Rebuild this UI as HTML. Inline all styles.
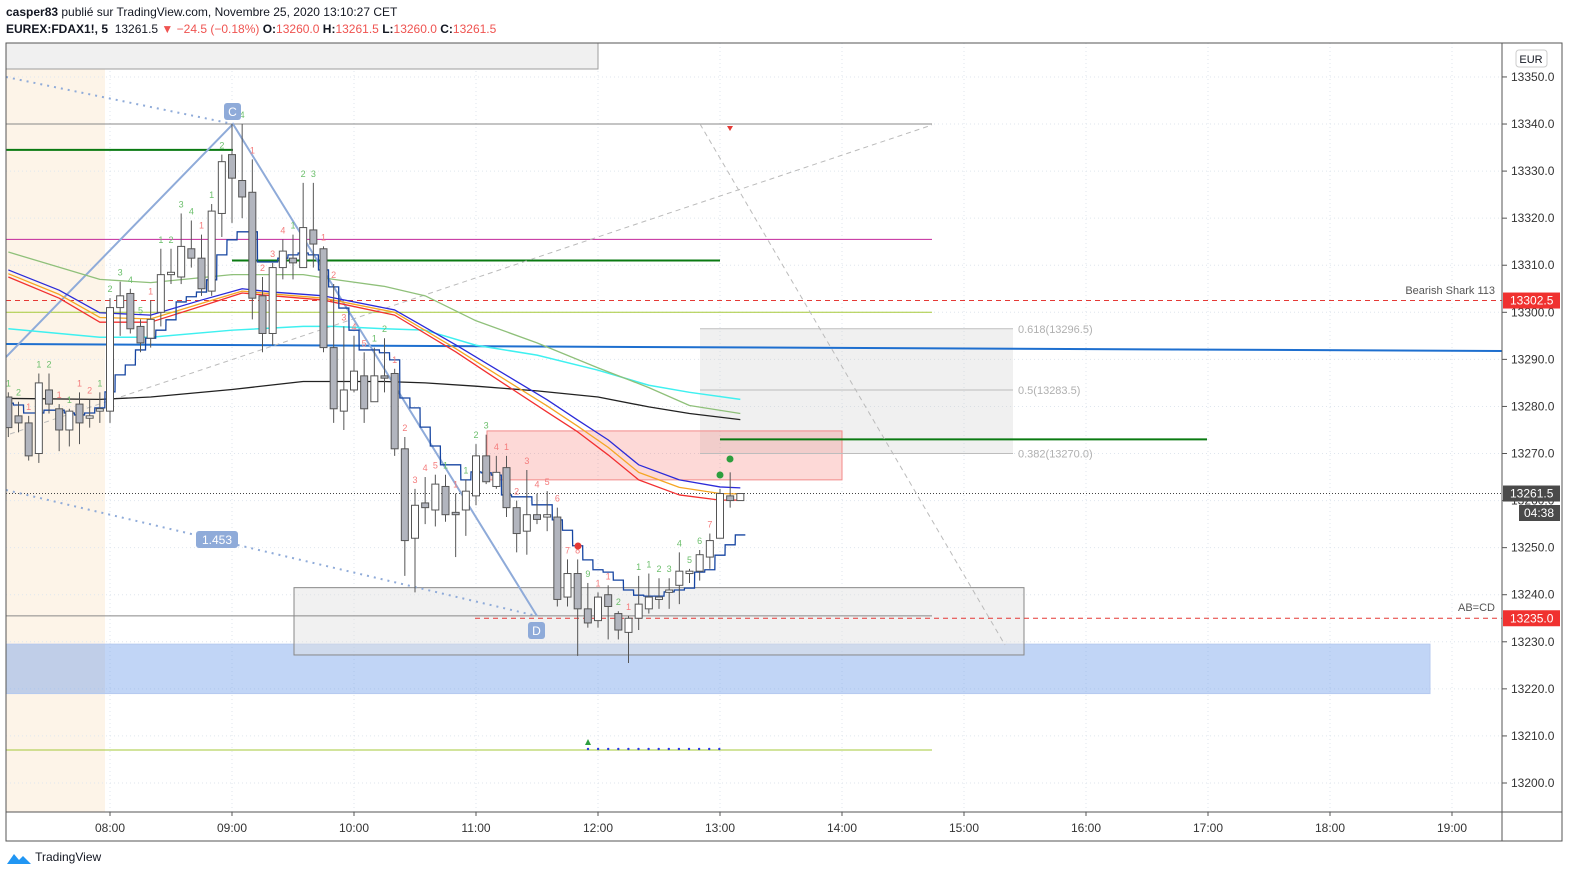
<!DOCTYPE html>
<html><head><meta charset="utf-8">
<style>
html,body{margin:0;padding:0;background:#fff;}
body{width:1576px;height:882px;overflow:hidden;font-family:"Liberation Sans",sans-serif;}
#hdr1{position:absolute;left:6px;top:5px;font-size:12px;color:#131722;}
#hdr2{position:absolute;left:6px;top:22px;font-size:12px;color:#131722;}
.r{color:#ef5350}
#logo{position:absolute;left:6px;top:850px;font-size:12px;color:#131722;}
svg{position:absolute;left:0;top:0;}
</style></head>
<body>
<div id="hdr1"><b>casper83</b> publié sur TradingView.com, Novembre 25, 2020 13:10:27 CET</div>
<div id="hdr2"><b>EUREX:FDAX1!, 5</b>&nbsp; 13261.5 <span class="r">▼ −24.5 (−0.18%)</span> <b>O:</b><span class="r">13260.0</span> <b>H:</b><span class="r">13261.5</span> <b>L:</b><span class="r">13260.0</span> <b>C:</b><span class="r">13261.5</span></div>
<div id="logo"><svg width="26" height="16" style="position:relative;vertical-align:middle;left:0;top:0" viewBox="0 0 26 16"><path d="M1 14 L8 4 L13 10 L17 6 L25 14 Z" fill="#2196f3"/></svg> TradingView</div>
<svg id="chart" width="1576" height="882" style="top:0;left:0;pointer-events:none"></svg>
<script>
// ---- data ----
const opens  = [13282,13278,13276.5,13270,13283.5,13279.5,13275,13280.5,13277.5,13279,13279,13301,13304,13297,13294.5,13300,13308,13307.5,13313.5,13311.5,13304.5,13321,13333.5,13328,13325.5,13303.5,13295.5,13309.5,13311.5,13309.5,13317.5,13313.5,13292.5,13279,13283.5,13286.5,13281,13286.5,13287,13271,13252,13259.5,13258,13263,13257.5,13258,13261,13269.5,13263,13267,13258.5,13253.5,13257,13256.5,13256.5,13239.5,13244.5,13237,13234.5,13240,13236,13232,13235,13237,13239,13240.5,13242,13244.5,13245,13248,13252,13261,13260];
const highs  = [13283,13281,13278,13287,13287,13280.5,13279.5,13283,13281.5,13283,13303,13306.5,13305,13298.5,13302.5,13313.5,13313.5,13321,13319.5,13316.5,13323,13333.5,13340,13340,13332.5,13307.5,13310.5,13315.5,13316.5,13327.5,13327.5,13314,13306,13297,13295,13291.5,13292.5,13294.5,13288,13273.5,13262.5,13265,13265.5,13265.5,13261.5,13264.5,13272,13274,13269.5,13269.5,13260,13266.5,13261.5,13262,13258.5,13247.5,13247.5,13242.5,13240.5,13242,13236.5,13235.5,13244,13244.5,13243.5,13243.5,13249,13245.5,13249.5,13253,13262.5,13266,13261.5];
const lows   = [13273.5,13274.5,13268.5,13268,13278.5,13270.5,13271.5,13272,13275.5,13276.5,13276.5,13295,13295.5,13291.5,13292.5,13297,13306,13306,13309.5,13303.5,13303.5,13316,13319,13320,13298.5,13291.5,13293,13307,13307,13309.5,13309.5,13291.5,13276.5,13275,13283,13276.5,13281,13283,13269.5,13244,13240.5,13255,13254.5,13255.5,13248,13252.5,13259,13263.5,13262.5,13256.5,13249,13248.5,13255,13253.5,13237.5,13237.5,13227,13233,13233,13230.5,13230.5,13225.5,13232.5,13236,13237,13237,13238,13242.5,13243,13245.5,13252,13258.5,13260];
const closes = [13275.5,13276.5,13269.5,13285,13280.5,13275,13279,13276.5,13278,13279.5,13301,13303.5,13296.5,13293.5,13298.5,13308,13308.5,13314,13311.5,13305,13321.5,13332,13328.5,13324.5,13303,13295.5,13309.5,13313,13310.5,13318,13314.5,13292.5,13279.5,13283.5,13287.5,13279.5,13286.5,13286,13271,13251.5,13259,13258.5,13263.5,13257,13257,13262,13269.5,13264,13266,13258.5,13253,13257,13256,13257,13239,13244.5,13237,13234,13239.5,13237.5,13232.5,13235,13238,13239.5,13239.5,13241,13245,13245,13248.5,13251.5,13261.5,13260,13261.5];
const stepLine = [13280.7,13280.3,13278.6,13278.6,13279.2,13279.2,13278.6,13278.2,13278.6,13279.7,13283.1,13286.7,13288.8,13292,13294.5,13296.2,13298.4,13302.2,13303.3,13304.3,13306.9,13312.2,13315.4,13317.1,13317.1,13310.7,13310.7,13311.5,13312.2,13312.6,13312.2,13309,13305.4,13300.9,13296.2,13292,13292,13291.4,13289.9,13281.8,13279.7,13275.6,13271.6,13267.6,13267.6,13264.4,13266.1,13265.9,13265.4,13261.2,13260.8,13260.8,13259.1,13259.1,13255.9,13253.7,13250.4,13247.4,13245.3,13244.8,13243.1,13241,13239.9,13239.7,13239.7,13240.6,13241,13241.4,13244.8,13245.3,13248.4,13250.6,13252.7];
const tdLabels = ["1","2","1","1","2","1","1","1","2","1","2","3","4","5","1","1","2","3","4","1","1","2","3","4","1","2","3","4","1","2","3","1","2","3","4","5","1","2","1","2","3","4","5","1","1","1","2","3","4","1","2","3","4","5","6","7","8","9","1","1","2","1","1","1","2","3","4","5","6","7","","",""];
const tdColors = "ggrggrgrrgggggrggggrggggrrrrgggrrrrrggrrrrrgrgggrrrrrrrrrgrrgrggggggg...";
const maIdx    = [0,5,9,14,19,23,26,31,38,44,47,53,56,59,62,66,70,72];
const emaFast  = [13309,13304.7,13299.9,13299.4,13302.6,13305,13304.3,13303.5,13300.5,13293.1,13289.2,13281.4,13277.1,13272.9,13267.6,13264.4,13262.9,13262.7];
const emaMid   = [13308.2,13303.8,13298.9,13298.6,13301.9,13304.5,13303.9,13303,13300,13292.3,13288.2,13280.1,13275.8,13271.3,13266,13262.8,13261.5,13261.4];
const emaSlow  = [13307.5,13303,13297.9,13297.9,13301.3,13304.1,13303.5,13302.6,13299.4,13291.6,13287.3,13278.8,13274.6,13269.7,13264.4,13261.2,13260.1,13260.1];
const smaIdx   = [0,9,14,22,29,32,37,41,46,52,58,63,67,72];
const smaGreen = [13312.8,13307,13306.3,13308,13308,13307,13305.5,13303.5,13298.2,13293.5,13288.2,13284,13280.2,13278.5];
const smaCyan  = [13296.5,13294.7,13294.7,13296.2,13297,13297,13296.5,13296.2,13293,13290.9,13287.7,13284.5,13283,13281.5];
const smaBlack = [13281.7,13281.5,13282,13283.6,13285.3,13285.3,13285.3,13285,13284.3,13283.3,13282,13279.9,13278.5,13277.2];
const priceTicks = [13200,13210,13220,13230,13240,13250,13260,13270,13280,13290,13300,13310,13320,13330,13340,13350];
const timeTicks = ["08:00","09:00","10:00","11:00","12:00","13:00","14:00","15:00","16:00","17:00","18:00","19:00"];

// ---- scales ----
const L=6,R=1502,T=43,B=812,RE=1562;
function y(p){return 783-(p-13200)*4.707;}
function xi(i){return 110+(i-10)*122/12;}
function xh(h){return 110+(h-8)*122;}
const NS="http://www.w3.org/2000/svg";
const svg=document.getElementById('chart');
function mk(tag,attrs,parent){const e=document.createElementNS(NS,tag);for(const k in attrs)e.setAttribute(k,attrs[k]);(parent||svg).appendChild(e);return e;}
function txt(x,yy,s,attrs,parent){const e=mk('text',Object.assign({x:x,y:yy,'font-family':'Liberation Sans, sans-serif','font-size':12,fill:'#131722'},attrs),parent);e.textContent=s;return e;}

const defs=mk('defs',{});const cp=mk('clipPath',{id:'pc'},defs);mk('rect',{x:L,y:T,width:R-L,height:B-T},cp);
const plot=mk('g',{'clip-path':'url(#pc)'});



let e=mk('rect',{x:L,y:T,width:99,height:B-T,fill:'#fdf4e8'},plot);



priceTicks.forEach(p=>{const g=mk('line',{x1:L,x2:R,y1:y(p),y2:y(p),stroke:'#dfe6ee','stroke-dasharray':'1,3'},plot);

});
timeTicks.forEach((t,k)=>{const g=mk('line',{x1:xh(8+k),x2:xh(8+k),y1:T,y2:B,stroke:'#dfe6ee','stroke-dasharray':'1,3'},plot);

});

function box(x1,p1,x2,p2,fill,stroke,name){const b=mk('rect',{x:x1,y:y(p1),width:x2-x1,height:y(p2)-y(p1),fill:fill,stroke:stroke||'none'},plot);

return b;}
e=mk('rect',{x:L,y:T,width:592,height:26,fill:'#f0f0f0',stroke:'#9e9e9e'},plot);


box(700,13296.5,1013,13270,'rgba(200,200,200,0.28)',null,'fib-zone');
box(487,13274.8,842,13264.4,'rgba(244,67,54,0.2)','#f28a8a','supply-box');
box(6,13229.5,1430,13219,'rgba(101,149,232,0.4)','#b6c9ef','demand-box-blue');
box(294,13241.5,1024,13227.2,'rgba(225,225,225,0.45)','#888','target-box');

[[13296.5,'0.618(13296.5)'],[13283.5,'0.5(13283.5)'],[13270,'0.382(13270.0)']].forEach(f=>{
const l=mk('line',{x1:700,x2:1013,y1:y(f[0]),y2:y(f[0]),stroke:'#bdbdbd'},plot);


const t=txt(1018,y(f[0])+4,f[1],{fill:'#b0b0b0','font-size':11},plot);

});

function hl(x1,x2,p,stroke,w,dash,name){const l=mk('line',{x1:x1,x2:x2,y1:y(p),y2:y(p),stroke:stroke,'stroke-width':w,'stroke-dasharray':dash||''},plot);

return l;}
hl(6,932,13340,'#888',1,'','level-13340');
hl(6,932,13235.5,'#888',1,'','level-13235');
hl(6,233,13334.5,'#0a7a12',2,'','green-level-left');
hl(6,932,13315.5,'#c2279b',1,'','magenta-level');
hl(232,720,13311,'#0a7a12',2,'','green-level-mid');
hl(6,932,13300,'#a5c93a',1,'','olive-level');
hl(720,1207,13273,'#0a7a12',2,'','green-level-right');
hl(6,932,13207,'#a5c93a',1,'','lightgreen-level');
hl(6,R,13302.5,'#e53935',1,'5,4','bearish-shark-line');
hl(475,R,13235,'#e53935',1,'5,4','abcd-line');
hl(6,R,13261.5,'#444',1,'1,2','last-price-line');
e=mk('line',{x1:6,x2:R,y1:344,y2:351,stroke:'#1e6fcf','stroke-width':2},plot);



e=mk('line',{x1:10,y1:434,x2:932,y2:125,stroke:'#bbb','stroke-dasharray':'5,4'},plot);


e=mk('line',{x1:700,y1:124,x2:1005,y2:645,stroke:'#bbb','stroke-dasharray':'5,4'},plot);



e=mk('polyline',{points:'6,357 233,124 537,616',fill:'none',stroke:'#8fabd9','stroke-width':2},plot);


e=mk('polyline',{points:'6,77 233,124',fill:'none',stroke:'#8fabd9','stroke-width':2,'stroke-dasharray':'2,5'},plot);


e=mk('polyline',{points:'6,490 537,616',fill:'none',stroke:'#8fabd9','stroke-width':2,'stroke-dasharray':'2,5'},plot);



function maLine(idx,vals,color,w,name){const pts=idx.map((i,k)=>xi(i)+','+y(vals[k])).join(' ');
const l=mk('polyline',{points:pts,fill:'none',stroke:color,'stroke-width':w,'stroke-linejoin':'round'},plot);

}
maLine(smaIdx,smaBlack,'#222',1.3,'ma-black');
maLine(smaIdx,smaCyan,'#3ff0f0',1.5,'ma-cyan');
maLine(smaIdx,smaGreen,'#8fc07a',1.3,'ma-green');
maLine(maIdx,emaSlow,'#f23030',1.3,'ema-red');
maLine(maIdx,emaMid,'#f5a623',1.3,'ema-orange');
maLine(maIdx,emaFast,'#2b2bd9',1.3,'ema-blue');

let sp='';stepLine.forEach((v,i)=>{const a=xi(i)-5,b=xi(i)+5;sp+=a+','+y(v)+' '+b+','+y(v)+' ';});
e=mk('polyline',{points:sp,fill:'none',stroke:'#1746a2','stroke-width':1.3},plot);



opens.forEach((o,i)=>{const c=closes[i],cx=xi(i);
const g=mk('g',{},plot);


mk('line',{x1:cx,x2:cx,y1:y(highs[i]),y2:y(lows[i]),stroke:'#555','stroke-width':1},g);
const top=y(Math.max(o,c)),bot=y(Math.min(o,c));
mk('rect',{x:cx-3.5,y:top,width:7,height:Math.max(1,bot-top),fill:c>=o?'#fff':'#b2b5be',stroke:'#555','stroke-width':1},g);
const lab=tdLabels[i];if(lab){const col=tdColors[i]==='g'?'#6cbf6c':'#f47c7c';
const t=txt(cx,y(highs[i])-6,lab,{'font-size':9,fill:col,'text-anchor':'middle'},plot);

}
});

e=mk('path',{d:'M727,126 L733,126 L730,131 Z',fill:'#e53935'},plot);


e=mk('path',{d:'M585,745 L591,745 L588,739 Z',fill:'#2e9e3e'},plot);


for(let k=0;k<14;k++){const d=mk('circle',{cx:588+k*10.1,cy:749,r:1.2,fill:'#2a3be0'},plot);

}
[[720,475,'#2e9e3e'],[730,459,'#2e9e3e'],[578,546,'#e53935']].forEach(m=>{const c=mk('circle',{cx:m[0],cy:m[1],r:3.5,fill:m[2]},plot);

});

function tag(x,yy,w,s,name){const g=mk('g',{},plot);


mk('rect',{x:x,y:yy,width:w,height:17,rx:3,fill:'#8fabd9'},g);txt(x+w/2,yy+13,s,{fill:'#fff','text-anchor':'middle','font-size':12},g);}
tag(224,103,17,'C','point-c-label');
tag(528,622,17,'D','point-d-label');
tag(196,531,42,'1.453','ratio-label');
e=txt(1495,294,'Bearish Shark 113',{'font-size':11,fill:'#555','text-anchor':'end'},plot);


e=txt(1495,611,'AB=CD',{'font-size':11,fill:'#555','text-anchor':'end'},plot);



e=mk('rect',{x:6,y:43,width:RE-6,height:798,fill:'none',stroke:'#555'});


e=mk('line',{x1:R,x2:R,y1:43,y2:841,stroke:'#555'});


e=mk('line',{x1:6,x2:RE,y1:B,y2:B,stroke:'#555'});



priceTicks.forEach(p=>{mk('line',{x1:R,x2:R+5,y1:y(p),y2:y(p),stroke:'#555'});
const t=txt(R+9,y(p)+4,p.toFixed(1),{'font-size':12,fill:'#333'});

});
function ptag(p,s,bg,name){const g=mk('g',{});


mk('rect',{x:R+1,y:y(p)-8,width:57,height:16,fill:bg},g);txt(R+8,y(p)+4,s,{fill:'#fff','font-size':12},g);}
ptag(13302.5,'13302.5','#f0312f','shark-price-tag');
ptag(13235,'13235.0','#f0312f','abcd-price-tag');
ptag(13261.5,'13261.5','#4a4a4a','last-price-tag');
const g2=mk('g',{});


mk('rect',{x:R+17,y:505,width:41,height:16,fill:'#4a4a4a'},g2);txt(R+22,517,'04:38',{fill:'#fff','font-size':12},g2);
const eg=mk('g',{});


mk('rect',{x:1516,y:50,width:31,height:17,rx:3,fill:'#fff',stroke:'#ccc'},eg);txt(1531,63,'EUR',{'font-size':11,'text-anchor':'middle'},eg);

timeTicks.forEach((t,k)=>{mk('line',{x1:xh(8+k),x2:xh(8+k),y1:B,y2:B+4,stroke:'#555'});
const e2=txt(xh(8+k),832,t,{'font-size':12,fill:'#333','text-anchor':'middle'});

});
</script>
</body></html>
